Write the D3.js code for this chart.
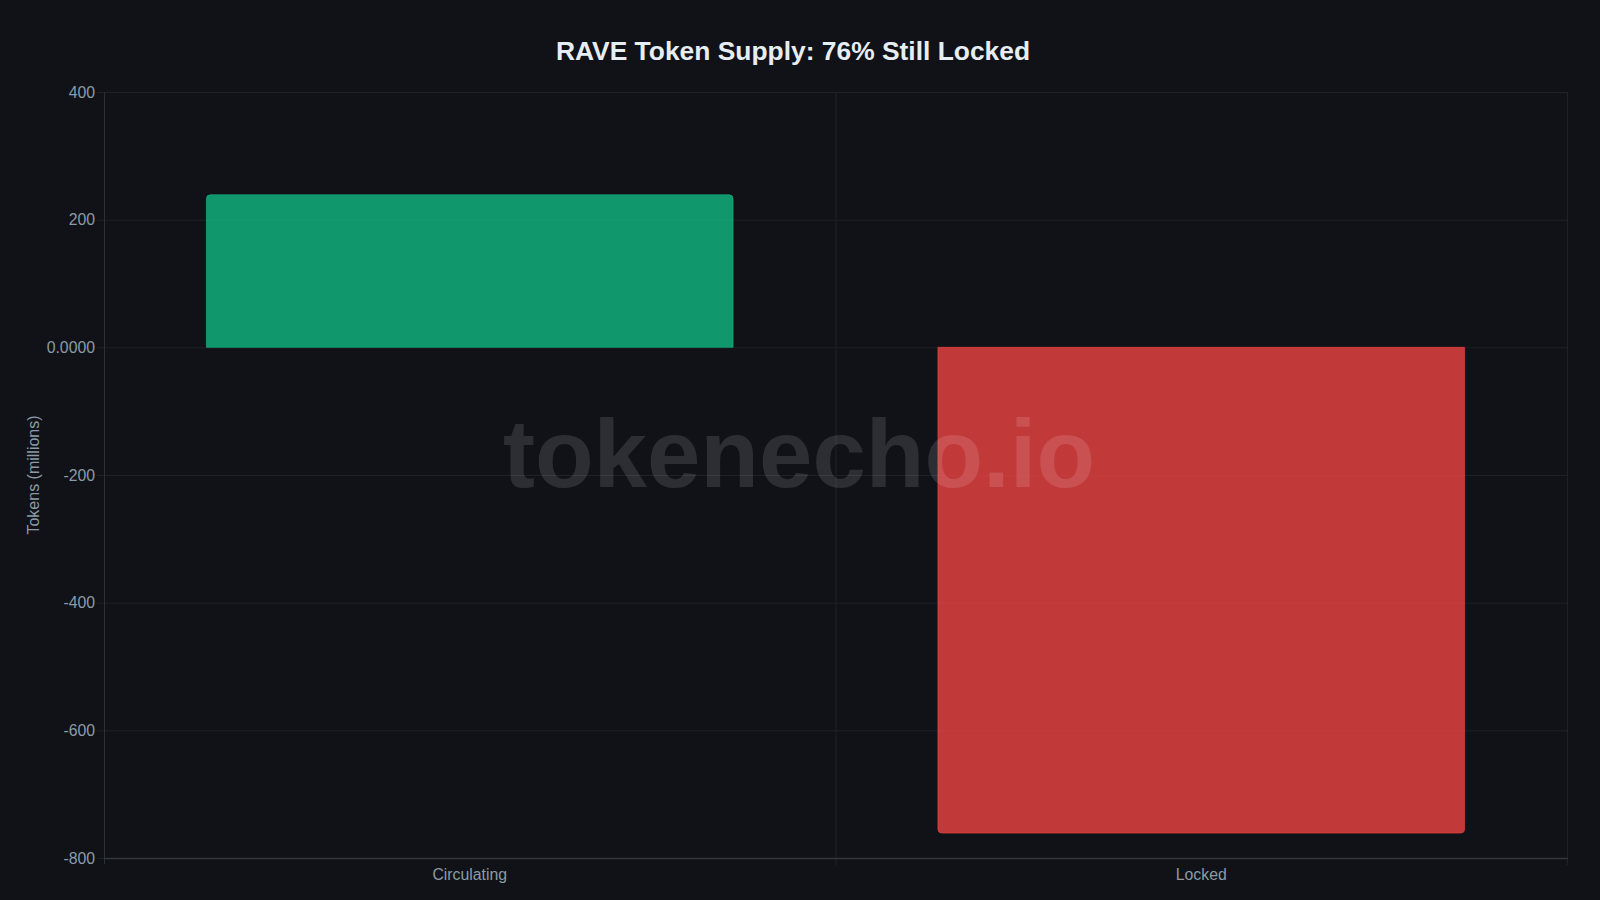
<!DOCTYPE html>
<html>
<head>
<meta charset="utf-8">
<script src="https://cdn.jsdelivr.net/npm/d3@7"></script>
<style>
  html, body { margin: 0; padding: 0; background: #111217; }
  svg { display: block; }
</style>
</head>
<body>
<svg id="chart" width="1600" height="900"></svg>
<script>
const categories = ["Circulating", "Locked"];
const values = [239, -761];
const yTicks = [400, 200, 0, -200, -400, -600, -800];
const yTickLabels = ["400", "200", "0.0000", "-200", "-400", "-600", "-800"];
const barFills = ["rgba(16,185,129,0.8)", "rgba(239,68,68,0.8)"];
const barStrokes = ["#10b981", "#ef4444"];
const titleText = "RAVE Token Supply: 76% Still Locked";
const yAxisTitle = "Tokens (millions)";
const watermark = "tokenecho.io";

const W = 1600, H = 900;
const margin = { left: 104, right: 33, top: 92, bottom: 42 };
const svg = d3.select("#chart");
const font = "'Liberation Sans', Arial, Helvetica, sans-serif";

svg.append("rect").attr("width", W).attr("height", H).attr("fill", "#111217");

const x = d3.scaleBand().domain(categories).range([margin.left, W - margin.right]).padding(0);
const y = d3.scaleLinear().domain([-800, 400]).range([H - margin.bottom, margin.top]);

const gridColor = "#1f2126";

// horizontal grid + ticks
svg.append("g").selectAll("line").data(yTicks).join("line")
  .attr("x1", margin.left - 7).attr("x2", W - margin.right)
  .attr("y1", d => y(d) + 0.5).attr("y2", d => y(d) + 0.5)
  .attr("stroke", gridColor).attr("stroke-width", 1);

// vertical grid lines at band boundaries
const vLines = [x(categories[1]), W - margin.right];
svg.append("g").selectAll("line").data(vLines).join("line")
  .attr("x1", d => d + 0.5).attr("x2", d => d + 0.5)
  .attr("y1", margin.top).attr("y2", H - margin.bottom + 7)
  .attr("stroke", gridColor).attr("stroke-width", 1);

// bars
const bw = x.bandwidth() * 0.72;
const r = 4;
function barPath(x0, w, yBase, yEnd) {
  const up = yEnd < yBase;
  const rr = Math.min(r, Math.abs(yBase - yEnd));
  if (up) {
    return `M${x0},${yBase} L${x0},${yEnd + rr} Q${x0},${yEnd} ${x0 + rr},${yEnd} L${x0 + w - rr},${yEnd} Q${x0 + w},${yEnd} ${x0 + w},${yEnd + rr} L${x0 + w},${yBase} Z`;
  } else {
    return `M${x0},${yBase} L${x0},${yEnd - rr} Q${x0},${yEnd} ${x0 + rr},${yEnd} L${x0 + w - rr},${yEnd} Q${x0 + w},${yEnd} ${x0 + w},${yEnd - rr} L${x0 + w},${yBase} Z`;
  }
}
svg.append("g").selectAll("path").data(categories).join("path")
  .attr("d", (c, i) => {
    const x0 = x(c) + (x.bandwidth() - bw) / 2;
    return barPath(x0, bw, y(0), y(values[i]));
  })
  .attr("fill", (c, i) => barFills[i])
  .attr("stroke", (c, i) => barStrokes[i])
  .attr("stroke-opacity", 0.6)
  .attr("stroke-width", 1);

// axes lines
svg.append("line")
  .attr("x1", margin.left + 0.5).attr("x2", margin.left + 0.5)
  .attr("y1", margin.top).attr("y2", H - margin.bottom + 6)
  .attr("stroke", "#283236").attr("stroke-width", 1);
svg.append("line")
  .attr("x1", margin.left).attr("x2", W - margin.right + 1)
  .attr("y1", H - margin.bottom + 0.5).attr("y2", H - margin.bottom + 0.5)
  .attr("stroke", "#34373b").attr("stroke-width", 1.5);

// y tick labels
svg.append("g").selectAll("text").data(yTicks).join("text")
  .attr("x", margin.left - 9).attr("y", d => y(d))
  .attr("dy", "0.35em")
  .attr("text-anchor", "end")
  .attr("fill", "#8a9ca6")
  .attr("font-family", font).attr("font-size", 15.8)
  .text((d, i) => yTickLabels[i]);

// x labels
svg.append("g").selectAll("text").data(categories).join("text")
  .attr("x", c => x(c) + x.bandwidth() / 2).attr("y", H - margin.bottom + 22)
  .attr("text-anchor", "middle")
  .attr("fill", "#8a9ca6")
  .attr("font-family", font).attr("font-size", 15.8)
  .text(c => c);

// y axis title
svg.append("text")
  .attr("transform", `translate(39,${(margin.top + H - margin.bottom) / 2}) rotate(-90)`)
  .attr("text-anchor", "middle")
  .attr("fill", "#8a9ca6")
  .attr("font-family", font).attr("font-size", 16)
  .text(yAxisTitle);

// title
svg.append("text")
  .attr("x", 793).attr("y", 60)
  .attr("text-anchor", "middle")
  .attr("fill", "#e6edf3")
  .attr("font-family", font).attr("font-weight", "bold").attr("font-size", 26.4)
  .text(titleText);

// watermark
svg.append("text")
  .attr("x", 799).attr("y", 487)
  .attr("text-anchor", "middle")
  .attr("fill", "#ffffff").attr("fill-opacity", 0.12)
  .attr("font-family", font).attr("font-weight", "bold").attr("font-size", 96)
  .text(watermark);
</script>
</body>
</html>
